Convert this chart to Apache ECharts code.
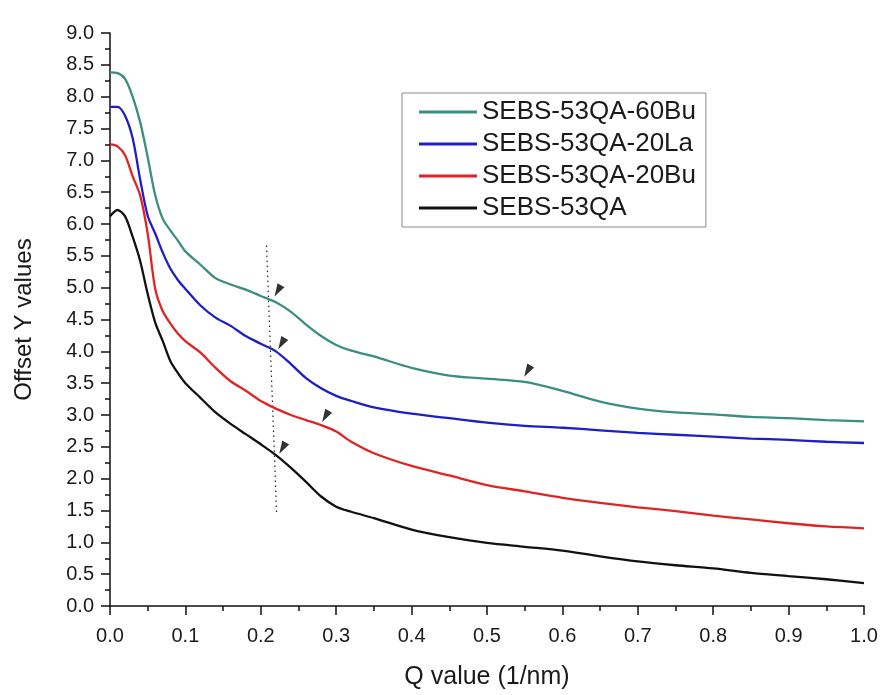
<!DOCTYPE html>
<html>
<head>
<meta charset="utf-8">
<script src="https://cdn.jsdelivr.net/npm/echarts@6/dist/echarts.min.js"></script>
<style>
  html, body { margin: 0; padding: 0; background: #fff; }
  #chart { width: 881px; height: 695px; }
</style>
</head>
<body>
<div id="chart"></div>
<script>
// Scattering vector Q (1/nm) sampled for every curve
const qValues = [0, 0.01, 0.02, 0.03, 0.04, 0.05, 0.06, 0.07, 0.08, 0.09, 0.10,
  0.12, 0.14, 0.16, 0.18, 0.20, 0.22, 0.24, 0.26, 0.28, 0.30, 0.32, 0.35,
  0.40, 0.45, 0.50, 0.55, 0.60, 0.65, 0.70, 0.75, 0.80, 0.85, 0.90, 0.95, 1.0];

const seriesNames = ['SEBS-53QA-60Bu', 'SEBS-53QA-20La', 'SEBS-53QA-20Bu', 'SEBS-53QA'];
const seriesColors = ['#3a8f80', '#1e1ec8', '#e02424', '#111111'];

// Offset intensity profiles
const sebs60Bu = [8.38, 8.37, 8.28, 8.00, 7.60, 7.05, 6.45, 6.08, 5.90, 5.74, 5.57,
  5.36, 5.15, 5.05, 4.97, 4.87, 4.77, 4.62, 4.42, 4.24, 4.10, 4.01, 3.92,
  3.74, 3.62, 3.57, 3.52, 3.38, 3.21, 3.10, 3.04, 3.01, 2.97, 2.95, 2.92, 2.90];
const sebs20La = [7.84, 7.84, 7.70, 7.35, 6.70, 6.13, 5.85, 5.55, 5.30, 5.12, 4.98,
  4.72, 4.53, 4.40, 4.24, 4.12, 4.00, 3.80, 3.58, 3.42, 3.30, 3.22, 3.12,
  3.02, 2.95, 2.88, 2.83, 2.80, 2.76, 2.72, 2.69, 2.66, 2.63, 2.61, 2.58, 2.56];
const sebs20Bu = [7.25, 7.22, 7.08, 6.75, 6.45, 5.85, 4.98, 4.63, 4.44, 4.28, 4.16,
  3.98, 3.74, 3.53, 3.38, 3.22, 3.10, 3.00, 2.92, 2.84, 2.74, 2.58, 2.40,
  2.20, 2.05, 1.90, 1.80, 1.70, 1.62, 1.55, 1.49, 1.42, 1.36, 1.30, 1.25, 1.22];
const sebs53QA = [6.12, 6.22, 6.12, 5.80, 5.42, 4.90, 4.45, 4.16, 3.85, 3.66, 3.50,
  3.27, 3.04, 2.86, 2.70, 2.54, 2.37, 2.17, 1.95, 1.72, 1.56, 1.48, 1.38,
  1.20, 1.08, 0.99, 0.93, 0.87, 0.78, 0.70, 0.64, 0.59, 0.52, 0.47, 0.42, 0.36];

// Shoulder positions marked with arrowheads: [Q, offset]
const shoulderMarks = [[0.2225, 4.95], [0.2275, 4.12], [0.2857, 2.98], [0.2288, 2.48], [0.5537, 3.69]];
// Guide line through the first shoulders: [Q, offset]
const guideLine = [[0.2076, 5.66], [0.2210, 1.44]];

const xTicks = { min: 0, max: 1.0, step: 0.1 };
const yTicks = { min: 0, max: 9.0, step: 0.5 };

const curves = [sebs60Bu, sebs20La, sebs20Bu, sebs53QA];
const font = 'Liberation Sans, Arial, sans-serif';

const chart = echarts.init(document.getElementById('chart'), null, { renderer: 'canvas' });

const lineSeries = curves.map((vals, i) => ({
  name: seriesNames[i],
  type: 'line',
  data: qValues.map((q, k) => [q, vals[k]]),
  showSymbol: false,
  smooth: 0.3,
  lineStyle: { color: seriesColors[i], width: 2.3 },
  itemStyle: { color: seriesColors[i] },
  z: 3
}));

chart.setOption({
  animation: false,
  backgroundColor: '#ffffff',
  textStyle: { fontFamily: font },
  grid: { left: 110, right: 17, top: 33, bottom: 86, containLabel: false },
  legend: {
    data: seriesNames,
    orient: 'vertical',
    left: 402,
    top: 93,
    icon: 'rect',
    itemWidth: 58,
    itemHeight: 3,
    itemGap: 6,
    padding: [6, 10, 6, 17],
    borderColor: '#8a8a8a',
    borderWidth: 1,
    textStyle: { fontFamily: font, fontSize: 26, color: '#1a1a1a' }
  },
  xAxis: {
    type: 'value',
    min: xTicks.min,
    max: xTicks.max,
    interval: xTicks.step,
    name: 'Q value (1/nm)',
    nameLocation: 'middle',
    nameGap: 59,
    nameTextStyle: { fontFamily: font, fontSize: 25, color: '#1a1a1a' },
    axisLine: { onZero: false, lineStyle: { color: '#111', width: 1.5 } },
    axisTick: { inside: false, length: 9, lineStyle: { color: '#111', width: 1.5 } },
    minorTick: { show: true, splitNumber: 2, length: 5, lineStyle: { color: '#111', width: 1.5 } },
    axisLabel: { fontFamily: font, fontSize: 20, color: '#1a1a1a', margin: 20,
      formatter: v => v.toFixed(1) },
    splitLine: { show: false }
  },
  yAxis: {
    type: 'value',
    min: yTicks.min,
    max: yTicks.max,
    interval: yTicks.step,
    name: 'Offset Y values',
    nameLocation: 'middle',
    nameGap: 74,
    nameRotate: 90,
    nameTextStyle: { fontFamily: font, fontSize: 24, color: '#1a1a1a' },
    axisLine: { show: true, onZero: false, lineStyle: { color: '#111', width: 1.5 } },
    axisTick: { show: true, inside: false, length: 9, lineStyle: { color: '#111', width: 1.5 } },
    minorTick: { show: true, splitNumber: 2, length: 5, lineStyle: { color: '#111', width: 1.5 } },
    axisLabel: { fontFamily: font, fontSize: 20, color: '#1a1a1a', margin: 16,
      formatter: v => v.toFixed(1) },
    splitLine: { show: false }
  },
  series: [
    ...lineSeries,
    {
      name: 'guide',
      type: 'line',
      data: guideLine,
      showSymbol: false,
      lineStyle: { color: '#222', width: 1.2, type: [1.5, 3.5] },
      z: 2
    },
    {
      name: 'shoulders',
      type: 'scatter',
      data: shoulderMarks,
      symbol: 'triangle',
      symbolSize: [8, 13],
      symbolRotate: 150,
      itemStyle: { color: '#000' },
      z: 4
    }
  ]
});
</script>
</body>
</html>
